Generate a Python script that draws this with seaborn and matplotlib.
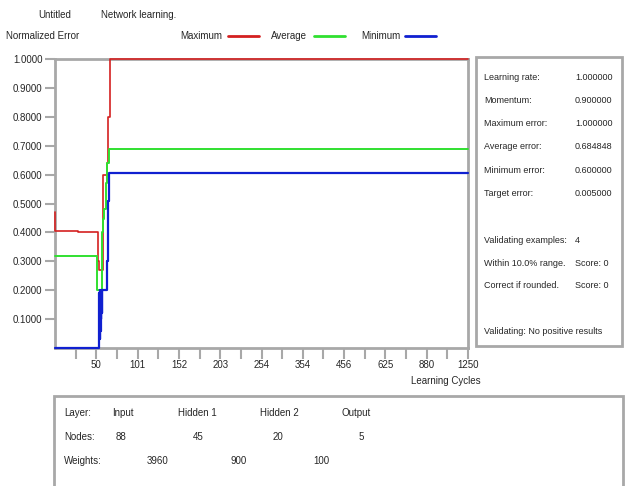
import numpy as np
import matplotlib
matplotlib.use("Agg")
import matplotlib.pyplot as plt
from matplotlib.lines import Line2D
from matplotlib.patches import Rectangle
import seaborn as sns

# x axis of the original is piecewise: tick labels at even spacing
tick_cycles = [0, 50, 101, 152, 203, 254, 354, 456, 625, 880, 1250]
tick_pos = list(range(len(tick_cycles)))

# step series (cycle where value starts, value)
max_cycles = [0, 0.5, 28, 52.5, 53.7, 58.6, 63.4, 64.6, 67, 1250]
max_err = [0.47, 0.405, 0.40, 0.30, 0.27, 0.60, 0.64, 0.80, 1.0, 1.0]

avg_cycles = [0, 51.2, 57.4, 58.6, 59.8, 62.2, 63.4, 65.9, 1250]
avg_err = [0.32, 0.20, 0.40, 0.445, 0.48, 0.57, 0.64, 0.69, 0.69]

min_cycles = [0, 53.7, 54.1, 54.5, 54.9, 55.3, 55.7, 56.1, 56.5, 57.4, 63.4, 64.0, 64.6, 65.3, 65.9, 1250]
min_err = [0.0, 0.19, 0.03, 0.2, 0.06, 0.19, 0.1, 0.2, 0.12, 0.2, 0.30, 0.40, 0.51, 0.57, 0.604, 0.604]

params = ["Learning rate:", "Momentum:", "Maximum error:", "Average error:", "Minimum error:", "Target error:"]
param_vals = ["1.000000", "0.900000", "1.000000", "0.684848", "0.600000", "0.005000"]

layers = ["Input", "Hidden 1", "Hidden 2", "Output"]
nodes = ["88", "45", "20", "5"]
weights = ["3960", "900", "100"]

sns.set_style("white")
plt.rcParams['font.family'] = ['Liberation Sans', 'DejaVu Sans']
plt.rcParams['font.size'] = 7

W, H = 627, 486
grey = "#a8a8a8"
fig = plt.figure(figsize=(W / 100, H / 100), dpi=100)


def px(x, y):
    return x / W, 1 - y / H


def ftext(x, y, s, **kw):
    fig.text(*px(x, y), s, va="center", **kw)


ax = fig.add_axes([55 / W, 1 - 348 / H, 413 / W, 289 / H])
fwd = lambda c: np.interp(c, tick_cycles, tick_pos)
inv = lambda p: np.interp(p, tick_pos, tick_cycles)
ax.set_xscale("function", functions=(fwd, inv))

line_kw = dict(drawstyle="steps-post", estimator=None, sort=False, clip_on=False, zorder=4)
sns.lineplot(x=max_cycles, y=max_err, ax=ax, color="#d42020", lw=1.2, **line_kw)
sns.lineplot(x=avg_cycles, y=avg_err, ax=ax, color="#30e030", lw=1.4, **line_kw)
sns.lineplot(x=min_cycles, y=min_err, ax=ax, color="#1020d0", lw=1.6, **line_kw)

ax.set_xlim(0, 1250)
ax.set_ylim(0, 1.0)
ax.set_xticks(tick_cycles[1:])
ax.set_xticklabels([str(t) for t in tick_cycles[1:]])
ax.set_xticks(inv(np.arange(0.5, 10, 1.0)), minor=True)
ax.set_yticks(np.arange(1, 11) / 10)
ax.set_yticklabels(["%.4f" % v for v in np.arange(1, 11) / 10])
ax.tick_params(axis="both", which="both", direction="out", color=grey, width=1.5,
               bottom=True, left=True)
ax.tick_params(axis="y", length=7, pad=2)
ax.tick_params(axis="x", which="major", length=8, pad=1)
ax.tick_params(axis="x", which="minor", length=8)
for s in ax.spines.values():
    s.set_color(grey)
    s.set_linewidth(2)
ax.set_xlabel("")
ax.set_ylabel("")

# header
ftext(55, 15, "Untitled", ha="center")
ftext(101, 15, "Network learning.", ha="left")
ftext(6, 36, "Normalized Error", ha="left")
for label, tx, lx, c in [("Maximum", 222, 228, "#d42020"), ("Average", 307, 314, "#30e030"),
                         ("Minimum", 401, 405, "#1020d0")]:
    ftext(tx, 36, label, ha="right")
    fig.add_artist(Line2D([lx / W, (lx + 31) / W], [1 - 36 / H] * 2, color=c, lw=2))

ftext(446, 381, "Learning Cycles", ha="center")

# right info panel
fig.add_artist(Rectangle(px(476, 346), 146 / W, 289 / H, fill=False, ec=grey, lw=2))
ps = 6.5
for i, (p, v) in enumerate(zip(params, param_vals)):
    y = 77 + i * 23.3
    ftext(484, y, p, ha="left", fontsize=ps)
    ftext(575, y, v, ha="left", fontsize=ps)
ftext(484, 240, "Validating examples:", ha="left", fontsize=ps)
ftext(575, 240, "4", ha="left", fontsize=ps)
ftext(484, 263, "Within 10.0% range.", ha="left", fontsize=ps)
ftext(575, 263, "Score: 0", ha="left", fontsize=ps)
ftext(484, 286, "Correct if rounded.", ha="left", fontsize=ps)
ftext(575, 286, "Score: 0", ha="left", fontsize=ps)
ftext(484, 332, "Validating: No positive results", ha="left", fontsize=ps)

# bottom network panel
fig.add_artist(Rectangle(px(54, 490), 569 / W, 94 / H, fill=False, ec=grey, lw=2))
ftext(64, 413, "Layer:", ha="left")
ftext(64, 437, "Nodes:", ha="left")
ftext(64, 461, "Weights:", ha="left")
for x, s in zip([112, 178, 260, 341], layers):
    ftext(x, 413, s, ha="left")
for x, s in zip([121, 198, 278, 361], nodes):
    ftext(x, 437, s, ha="center")
for x, s in zip([158, 239, 321], weights):
    ftext(x, 461, s, ha="center")

fig.savefig("out.png", dpi=100)
